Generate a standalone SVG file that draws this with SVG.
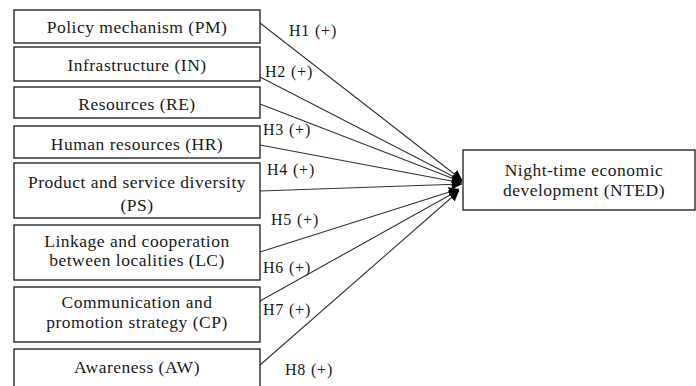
<svg xmlns="http://www.w3.org/2000/svg" width="696" height="386" viewBox="0 0 696 386">
  <style>
    .box { fill: #ffffff; stroke: #1a1a1a; stroke-width: 1.3; }
    .lbl { font-family: 'Liberation Serif', 'Times New Roman', 'DejaVu Serif', serif; font-size: 17.5px; letter-spacing: 0.5px; fill: #1a1a1a; text-anchor: middle; }
    .hyp { font-family: 'Liberation Serif', 'Times New Roman', 'DejaVu Serif', serif; font-size: 16px; letter-spacing: 0.8px; fill: #1a1a1a; }
    .edge { stroke: #333333; stroke-width: 1.1; fill: none; marker-end: url(#arrow); }
  </style>
  <defs>
    <marker id="arrow" viewBox="0 0 10 10" refX="10" refY="5" markerWidth="10" markerHeight="10" markerUnits="userSpaceOnUse" orient="auto">
      <path d="M0,0 L10,5 L0,10 Z" fill="#000000"/>
    </marker>
  </defs>

  <g id="connectors">
    <line class="edge" x1="260" y1="23" x2="462" y2="180"/>
    <line class="edge" x1="260" y1="77" x2="462" y2="181"/>
    <line class="edge" x1="260" y1="104" x2="462" y2="182"/>
    <line class="edge" x1="260" y1="145" x2="462" y2="183"/>
    <line class="edge" x1="260" y1="191" x2="462" y2="184"/>
    <line class="edge" x1="260" y1="252" x2="459" y2="189"/>
    <line class="edge" x1="260" y1="301" x2="459" y2="190"/>
    <line class="edge" x1="260" y1="365" x2="459" y2="191"/>
  </g>

  <g id="hypotheses">
    <text class="hyp" x="289" y="36">H1 (+)</text>
    <text class="hyp" x="265" y="77">H2 (+)</text>
    <text class="hyp" x="263" y="135">H3 (+)</text>
    <text class="hyp" x="267" y="175">H4 (+)</text>
    <text class="hyp" x="271" y="225">H5 (+)</text>
    <text class="hyp" x="263" y="273">H6 (+)</text>
    <text class="hyp" x="263" y="315">H7 (+)</text>
    <text class="hyp" x="285" y="375">H8 (+)</text>
  </g>

  <g id="node-pm">
    <rect class="box" x="14" y="10" width="246" height="33"/>
    <text class="lbl" x="137" y="33">Policy mechanism (PM)</text>
  </g>
  <g id="node-in">
    <rect class="box" x="14" y="47" width="246" height="34"/>
    <text class="lbl" x="137" y="71">Infrastructure (IN)</text>
  </g>
  <g id="node-re">
    <rect class="box" x="14" y="87" width="246" height="31"/>
    <text class="lbl" x="137" y="110">Resources (RE)</text>
  </g>
  <g id="node-hr">
    <rect class="box" x="14" y="126" width="246" height="32"/>
    <text class="lbl" x="137" y="150">Human resources (HR)</text>
  </g>
  <g id="node-ps">
    <rect class="box" x="14" y="163" width="246" height="55"/>
    <text class="lbl" x="137" y="188">Product and service diversity</text>
    <text class="lbl" x="137" y="211">(PS)</text>
  </g>
  <g id="node-lc">
    <rect class="box" x="14" y="225" width="246" height="55"/>
    <text class="lbl" x="137" y="247">Linkage and cooperation</text>
    <text class="lbl" x="137" y="266">between localities (LC)</text>
  </g>
  <g id="node-cp">
    <rect class="box" x="14" y="287" width="246" height="55"/>
    <text class="lbl" x="137" y="308">Communication and</text>
    <text class="lbl" x="137" y="328">promotion strategy (CP)</text>
  </g>
  <g id="node-aw">
    <rect class="box" x="14" y="349" width="246" height="45"/>
    <text class="lbl" x="137" y="373">Awareness (AW)</text>
  </g>
  <g id="node-nted">
    <rect class="box" x="463" y="150" width="232" height="60"/>
    <text class="lbl" x="584" y="176">Night-time economic</text>
    <text class="lbl" x="584" y="196">development (NTED)</text>
  </g>
</svg>
